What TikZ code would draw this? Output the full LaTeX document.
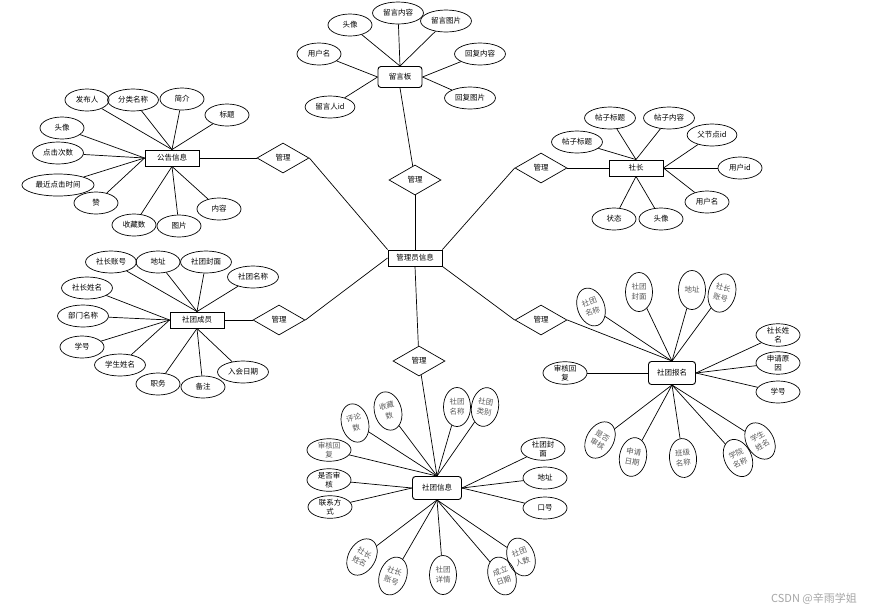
\documentclass[tikz,border=0pt]{standalone}
\usepackage{fontspec}
\setmainfont{Noto Sans CJK SC}
\usetikzlibrary{shapes.geometric}
\tikzset{
  ent/.style={draw, line width=0.9pt, minimum width=54pt, minimum height=16pt, inner sep=1pt},
  entr/.style={ent, rounded corners=3pt, minimum width=47pt, minimum height=23pt},
  rel/.style={draw, diamond, minimum width=52pt, minimum height=30pt, inner sep=0pt},
  attr/.style={draw, ellipse, minimum width=44pt, minimum height=22pt, inner xsep=3pt, inner ysep=0pt, align=center},
  vattr/.style={draw, ellipse, minimum width=27pt, minimum height=39pt, inner sep=0pt, align=center, text=black!65, font=\fontsize{7.5}{10}\selectfont},
}
\begin{document}
\begin{tikzpicture}[x=1pt, y=-1pt, line width=0.7pt, font=\fontsize{7.5}{9}\selectfont]
\fill[white] (0,0) rectangle (884,614);
\useasboundingbox (0,0) rectangle (884,614);
% entities and relations
\node[ent] (gly) at (415,258) {管理员信息};
\node[rel] (r1) at (415,180) {管理};
\node[rel] (r2) at (283,158) {管理};
\node[rel] (r3) at (541,168) {管理};
\node[rel] (r4) at (279,320) {管理};
\node[rel] (r5) at (541,320) {管理};
\node[rel] (r6) at (419,361) {管理};
\node[entr, minimum width=44pt, minimum height=21pt] (lyb) at (400,77) {留言板};
\node[ent] (ggxx) at (172,158) {公告信息};
\node[ent] (sz) at (636,168) {社长};
\node[ent] (stcy) at (197,320) {社团成员};
\node[entr] (stbm) at (672,373) {社团报名};
\node[entr, minimum width=49pt] (stxx) at (437,488) {社团信息};
% 留言板
\node[attr] (ly1) at (350,25) {头像};
\node[attr] (ly2) at (398,13) {留言内容};
\node[attr] (ly3) at (446,21) {留言图片};
\node[attr] (ly4) at (319,54) {用户名};
\node[attr] (ly5) at (480,54) {回复内容};
\node[attr] (ly6) at (470,98) {回复图片};
\node[attr] (ly7) at (330,107) {留言人id};
% 公告信息
\node[attr] (gg1) at (87,100) {发布人};
\node[attr] (gg2) at (133,100) {分类名称};
\node[attr] (gg3) at (182,99) {简介};
\node[attr] (gg4) at (227,115) {标题};
\node[attr] (gg5) at (62,128) {头像};
\node[attr] (gg6) at (58,153) {点击次数};
\node[attr] (gg7) at (58,185) {最近点击时间};
\node[attr] (gg8) at (96,203) {赞};
\node[attr] (gg9) at (134,225) {收藏数};
\node[attr] (gg10) at (179,226) {图片};
\node[attr] (gg11) at (219,209) {内容};
% 社长
\node[attr] (sz1) at (577,142) {帖子标题};
\node[attr] (sz2) at (610,118) {帖子标题};
\node[attr] (sz3) at (669,118) {帖子内容};
\node[attr] (sz4) at (712,135) {父节点id};
\node[attr] (sz5) at (740,168) {用户id};
\node[attr] (sz6) at (707,202) {用户名};
\node[attr] (sz7) at (614,219) {状态};
\node[attr] (sz8) at (661,219) {头像};
% 社团成员
\node[attr] (cy1) at (111,262) {社长账号};
\node[attr] (cy2) at (158,262) {地址};
\node[attr] (cy3) at (206,262) {社团封面};
\node[attr] (cy4) at (253,277) {社团名称};
\node[attr] (cy5) at (87,288) {社长姓名};
\node[attr] (cy6) at (83,316) {部门名称};
\node[attr] (cy7) at (82,347) {学号};
\node[attr] (cy8) at (120,365) {学生姓名};
\node[attr] (cy9) at (158,384) {职务};
\node[attr] (cy10) at (203,387) {备注};
\node[attr] (cy11) at (243,372) {入会日期};
% 社团报名
\node[vattr, rotate=20] (bm1) at (591,307) {社团\\名称};
\node[vattr] (bm2) at (639,292) {社团\\封面};
\node[vattr] (bm3) at (692,290) {地址};
\node[vattr, rotate=-15] (bm4) at (722,293) {社长\\账号};
\node[attr] (bm5) at (778,335) {社长姓\\名};
\node[attr] (bm6) at (778,363) {申请原\\因};
\node[attr] (bm7) at (778,392) {学号};
\node[attr] (bm8) at (565,373) {审核回\\复};
\node[vattr, rotate=-30] (bm9) at (600,440) {是否\\审核};
\node[vattr, rotate=-10] (bm10) at (633,457) {申请\\日期};
\node[vattr, rotate=5] (bm11) at (683,458) {班级\\名称};
\node[vattr, rotate=25] (bm12) at (738,458) {学院\\名称};
\node[vattr, rotate=30] (bm13) at (760,441) {学生\\姓名};
% 社团信息
\node[vattr, rotate=15] (xx1) at (355,423) {评论\\数};
\node[vattr, rotate=15] (xx2) at (388,411) {收藏\\数};
\node[vattr] (xx3) at (457,407) {社团\\名称};
\node[vattr, rotate=-10] (xx4) at (485,407) {社团\\类别};
\node[attr, text=black!65] (xx5) at (329,450) {审核回\\复};
\node[attr] (xx6) at (329,480) {是否审\\核};
\node[attr] (xx7) at (330,507) {联系方\\式};
\node[attr] (xx8) at (543,449) {社团封\\面};
\node[attr] (xx9) at (545,478) {地址};
\node[attr] (xx10) at (545,508) {口号};
\node[vattr, rotate=-30] (xx11) at (362,557) {社长\\姓名};
\node[vattr, rotate=-20] (xx12) at (393,576) {社长\\账号};
\node[vattr] (xx13) at (443,575) {社团\\详情};
\node[vattr, rotate=20] (xx14) at (502,576) {成立\\日期};
\node[vattr, rotate=20] (xx15) at (521,557) {社团\\人数};
\node[text=black!35, font=\fontsize{11}{13}\selectfont] (wm) at (814,599) {CSDN @辛雨学姐};
% connectors
\draw (r1) -- (gly.north); \draw (r1) -- (lyb.south);
\draw (r2.east) -- (gly.north west); \draw (r2) -- (ggxx.east);
\draw (r3.west) -- (gly.north east); \draw (r3) -- (sz.west);
\draw (r4.east) -- (gly.west); \draw (r4) -- (stcy.east);
\draw (r5.west) -- (gly.south east); \draw (r5.east) -- (stbm.north);
\draw (r6) -- (gly.south); \draw (r6) -- (stxx.north);
\foreach \a in {ly1,ly2,ly3} \draw (\a) -- (lyb.north);
\foreach \a in {ly4,ly7} \draw (\a) -- (lyb.west);
\foreach \a in {ly5,ly6} \draw (\a) -- (lyb.east);
\foreach \a in {gg1,gg2,gg3,gg4} \draw (\a) -- (ggxx.north);
\foreach \a in {gg5,gg6,gg7,gg8} \draw (\a) -- (ggxx.west);
\foreach \a in {gg9,gg10,gg11} \draw (\a) -- (ggxx.south);
\foreach \a in {sz1,sz2,sz3} \draw (\a) -- (sz.north);
\foreach \a in {sz4,sz5,sz6} \draw (\a) -- (sz.east);
\foreach \a in {sz7,sz8} \draw (\a) -- (sz.south);
\foreach \a in {cy1,cy2,cy3,cy4} \draw (\a) -- (stcy.north);
\foreach \a in {cy5,cy6,cy7,cy8} \draw (\a) -- (stcy.west);
\foreach \a in {cy9,cy10,cy11} \draw (\a) -- (stcy.south);
\foreach \a in {bm1,bm2,bm3,bm4} \draw (\a) -- (stbm.north);
\foreach \a in {bm5,bm6,bm7} \draw (\a) -- (stbm.east);
\draw (bm8) -- (stbm.west);
\foreach \a in {bm9,bm10,bm11,bm12,bm13} \draw (\a) -- (stbm.south);
\foreach \a in {xx1,xx2,xx3,xx4,xx5} \draw (\a) -- (stxx.north);
\foreach \a in {xx6,xx7} \draw (\a) -- (stxx.west);
\foreach \a in {xx8,xx9,xx10} \draw (\a) -- (stxx.east);
\foreach \a in {xx11,xx12,xx13,xx14,xx15} \draw (\a) -- (stxx.south);
\end{tikzpicture}
\end{document}
